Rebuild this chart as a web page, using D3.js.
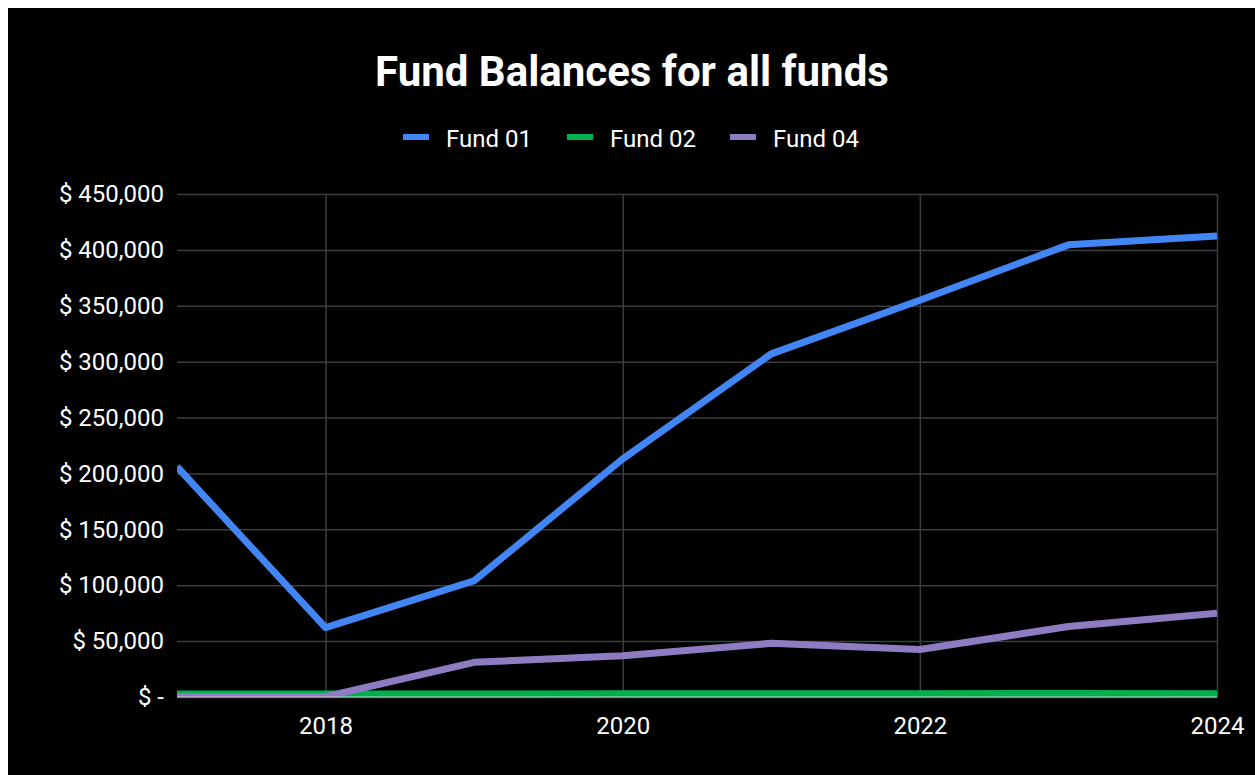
<!DOCTYPE html>
<html>
<head>
<meta charset="utf-8">
<script src="https://cdn.jsdelivr.net/npm/d3@7"></script>
<style>
  html, body { margin: 0; padding: 0; background: #fff; overflow: hidden; }
  svg { display: block; font-family: Roboto, "Noto Sans", sans-serif; }
</style>
</head>
<body>
<svg id="chart" width="1255" height="775"></svg>
<script>
// Yearly fund balances (USD)
const years = [2017, 2018, 2019, 2020, 2021, 2022, 2023, 2024];
const fund01 = [206000, 62000, 104000, 213000, 307000, 355000, 404500, 412500];
const fund02 = [2700, 2700, 2700, 2800, 2800, 2900, 3200, 2900];
const fund04 = [300, 300, 31000, 37000, 48000, 42500, 63000, 75000];

const seriesNames = ["Fund 01", "Fund 02", "Fund 04"];
const seriesColors = ["#4285f4", "#00b04f", "#8e7cc3"];

const yTickValues = [0, 50000, 100000, 150000, 200000, 250000, 300000, 350000, 400000, 450000];
const yTickLabels = ["$ -", "$ 50,000", "$ 100,000", "$ 150,000", "$ 200,000", "$ 250,000",
                     "$ 300,000", "$ 350,000", "$ 400,000", "$ 450,000"];
const xTickValues = [2018, 2020, 2022, 2024];

const svg = d3.select("#chart");

// dark card
svg.append("rect").attr("x", 8).attr("y", 8).attr("width", 1247).attr("height", 767).attr("fill", "#000");

const plot = { left: 177, right: 1217, top: 194, bottom: 697 };

const x = d3.scaleLinear().domain([2017, 2024]).range([plot.left, plot.right]);
const y = d3.scaleLinear().domain([0, 450000]).range([plot.bottom, plot.top]);

// title
svg.append("text")
  .attr("x", 632).attr("y", 86)
  .attr("text-anchor", "middle")
  .attr("fill", "#fff")
  .attr("font-size", 42)
  .attr("font-weight", 700)
  .text("Fund Balances for all funds");

// legend
const legendX = [403, 567, 730];
const legend = svg.append("g");
seriesNames.forEach((name, i) => {
  legend.append("rect")
    .attr("x", legendX[i]).attr("y", 134)
    .attr("width", 26).attr("height", 6)
    .attr("fill", seriesColors[i]);
  legend.append("text")
    .attr("x", legendX[i] + 43).attr("y", 147)
    .attr("fill", "#fff")
    .attr("font-size", 24)
    .text(name);
});

// horizontal gridlines + y labels
const yAxis = d3.axisLeft(y)
  .tickValues(yTickValues)
  .tickSize(-(plot.right - plot.left))
  .tickPadding(13)
  .tickFormat((d, i) => yTickLabels[i]);
const gy = svg.append("g").attr("transform", `translate(${plot.left},0)`).call(yAxis);
gy.select(".domain").remove();
gy.selectAll(".tick line").attr("stroke", "#3d3d3d").attr("stroke-width", 1.5);
gy.selectAll(".tick text").attr("fill", "#fff").attr("font-size", 24).attr("font-family", "Roboto, sans-serif");

// vertical gridlines + x labels
const xAxis = d3.axisBottom(x)
  .tickValues(xTickValues)
  .tickSize(-(plot.bottom - plot.top))
  .tickPadding(20)
  .tickFormat(d3.format("d"));
const gx = svg.append("g").attr("transform", `translate(0,${plot.bottom})`).call(xAxis);
gx.select(".domain").remove();
gx.selectAll(".tick line").attr("stroke", "#3d3d3d").attr("stroke-width", 1.5);
gx.selectAll(".tick text").attr("fill", "#fff").attr("font-size", 24).attr("font-family", "Roboto, sans-serif");

// lines, clipped to the plot area
svg.append("clipPath").attr("id", "plotClip")
  .append("rect")
  .attr("x", plot.left).attr("y", plot.top - 10)
  .attr("width", plot.right - plot.left).attr("height", plot.bottom - plot.top + 10);

const line = d3.line().x(d => x(d[0])).y(d => y(d[1]));
const allSeries = [fund01, fund02, fund04];
const lines = svg.append("g").attr("clip-path", "url(#plotClip)");
allSeries.forEach((vals, i) => {
  lines.append("path")
    .datum(years.map((yr, j) => [yr, vals[j]]))
    .attr("fill", "none")
    .attr("stroke", seriesColors[i])
    .attr("stroke-width", 7)
    .attr("stroke-linejoin", "round")
    .attr("d", line);
});

// baseline
svg.append("line")
  .attr("x1", plot.left).attr("x2", plot.right)
  .attr("y1", plot.bottom).attr("y2", plot.bottom)
  .attr("stroke", "#cfcfcf").attr("stroke-width", 1);
</script>
</body>
</html>
